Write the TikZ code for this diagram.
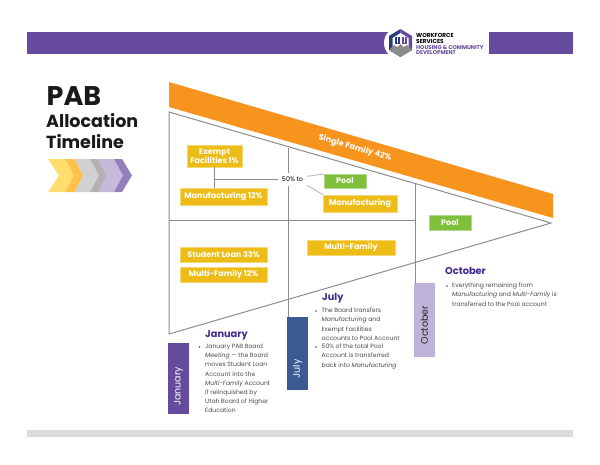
\documentclass[tikz,border=0pt]{standalone}
\usepackage{fontspec}
\setmainfont{Poppins}
\definecolor{barpurple}{HTML}{664A9E}
\definecolor{logonavy}{HTML}{2B3A7E}
\definecolor{monthblue}{HTML}{3B5A94}
\definecolor{monthlilac}{HTML}{C0B3D9}
\definecolor{bandorange}{HTML}{F7941E}
\definecolor{boxyellow}{HTML}{EEBC17}
\definecolor{boxgreen}{HTML}{7FBF3A}
\definecolor{edgegray}{HTML}{8C8C8C}
\definecolor{headpurple}{HTML}{41288C}
\definecolor{bodygray}{HTML}{4A4A4A}
\tikzset{
	allocbox/.style={draw=boxyellow!60,fill=boxyellow,line width=0.5pt,text=white,font=\fontsize{8}{9}\selectfont\bfseries,inner sep=0pt,align=center},
	poolbox/.style={allocbox,draw=boxgreen!60,fill=boxgreen},
	monthbox/.style={fill=#1,line width=0.5pt,minimum width=21pt,inner sep=0pt},
	monthtext/.style={rotate=90,font=\fontsize{9.5}{9.5}\selectfont},
	monthhead/.style={anchor=base west,inner sep=0pt,text=headpurple,font=\fontsize{9.8}{10}\selectfont\bfseries},
	bodytext/.style={anchor=north west,inner sep=0pt,align=left,text=bodygray,font=\fontsize{6.1}{9.1}\selectfont},
	bulletdot/.style={circle,fill=bodygray,inner sep=0pt,minimum size=1.7pt},
	logotext/.style={anchor=base west,inner sep=0pt,font=\fontsize{5.8}{6}\selectfont\bfseries},
	logosub/.style={anchor=base west,inner sep=0pt,text=barpurple,font=\fontsize{5.5}{6}\selectfont\bfseries},
	titletext/.style={anchor=base west,inner sep=0pt,text=black!90,font=\fontsize{#1}{#1}\selectfont\bfseries}
}
\begin{document}
\begin{tikzpicture}[x=1pt,y=-1pt]
	\useasboundingbox (0,0) rectangle (600,464);
	\def\midx{288}
	\def\lastx{415}
	\def\apexx{551}
	\def\apexy{223}
	\def\midy{220}

	%%%%% BARS %%%%%
	\fill[barpurple] (27,32) rectangle (388,54);
	\fill[barpurple] (489,32) rectangle (573,54);
	\fill[white] (400,43) circle (16);
	\fill[black!14] (27,430) rectangle (573,437);

	%%%%% LOGO %%%%%
	\fill[logonavy] (400.5,29) -- (389,36) -- (389,50) -- (400.5,57) -- cycle;
	\fill[barpurple] (400.5,29) -- (412,36) -- (412,50) -- (400.5,57) -- cycle;
	\fill[white] (400.5,33) -- (392.5,38) -- (392.5,48) -- (400.5,53) -- (408.5,48) -- (408.5,38) -- cycle;
	\fill[black!45] (389,50) -- (394,45) -- (397.5,47) -- (400.5,44) -- (403.5,47) -- (407,45) -- (412,50) -- (400.5,57) -- cycle;
	\fill[logonavy] (394.5,37) rectangle (399.5,44);
	\fill[barpurple] (401.5,37) rectangle (406.5,44);
	\fill[white] (396.5,37) rectangle (397.5,43);
	\fill[white] (403.5,37) rectangle (404.5,43);
	\node[logotext] (logoa) at (416,37) {WORKFORCE};
	\node[logotext] (logob) at (416,43) {SERVICES};
	\node[logosub] (logoc) at (416,49) {HOUSING \& COMMUNITY};
	\node[logosub] (logod) at (416,54.5) {DEVELOPMENT};

	%%%%% TITLE %%%%%
	\node[titletext=27] (titlea) at (46.5,105) {PAB};
	\node[titletext=17.5] (titleb) at (46,127) {Allocation};
	\node[titletext=17.5] (titlec) at (46,148) {Timeline};

	\fill[yellow!60!orange!55] (48,159) -- (65,159) -- (74,175.5) -- (65,192) -- (48,192) -- (59,175.5) -- cycle;
	\fill[orange!70!yellow!70] (65,159) -- (75,159) -- (83,175.5) -- (75,192) -- (65,192) -- (74,175.5) -- cycle;
	\fill[black!18] (75,159) -- (90,159) -- (99,175.5) -- (90,192) -- (75,192) -- (83,175.5) -- cycle;
	\fill[black!30] (90,159) -- (98,159) -- (107,175.5) -- (98,192) -- (90,192) -- (99,175.5) -- cycle;
	\fill[barpurple!38] (98,159) -- (114,159) -- (123,175.5) -- (114,192) -- (98,192) -- (107,175.5) -- cycle;
	\fill[barpurple!70] (114,159) -- (122,159) -- (132,175.5) -- (122,192) -- (114,192) -- (123,175.5) -- cycle;

	%%%%% TRIANGLE %%%%%
	\fill[bandorange] (169,82) -- (553,194) -- (553,218) -- (169,107) -- cycle;
	\node[rotate=-16.3,text=white,font=\fontsize{8.2}{9}\selectfont\bfseries] (singlefamily) at (355,148) {Single Family 42\%};

	\draw[edgegray,line width=1pt] (169,112) -- (\apexx,\apexy) -- (169,334) -- cycle;
	\draw[edgegray,line width=1pt] (\midx,148) -- (\midx,317);
	\draw[edgegray,line width=1pt] (\lastx,184) -- (\lastx,283);
	\draw[edgegray,line width=1pt] (169,\midy) -- (\lastx,\midy);

	%%%%% BOXES %%%%%
	\node[allocbox,minimum width=55pt,minimum height=22pt] (exempt) at (214.5,156) {Exempt\\[-0.5pt]Facilities 1\%};
	\node[allocbox,minimum width=87pt,minimum height=17pt] (mfgtwelve) at (223.5,196.5) {Manufacturing 12\%};
	\node[poolbox,minimum width=42pt,minimum height=14pt] (poolone) at (345,181) {Pool};
	\node[allocbox,minimum width=74pt,minimum height=17pt] (mfgjuly) at (360,203.5) {Manufacturing};
	\node[poolbox,minimum width=42pt,minimum height=15pt] (pooltwo) at (450,222.5) {Pool};
	\node[allocbox,minimum width=87pt,minimum height=15pt] (studentloan) at (223.5,254.5) {Student Loan 33\%};
	\node[allocbox,minimum width=87pt,minimum height=15pt] (multitwelve) at (223.5,274.5) {Multi-Family 12\%};
	\node[allocbox,minimum width=88pt,minimum height=15pt] (multijuly) at (351,247.5) {Multi-Family};

	\node[fill=white,inner sep=0pt,minimum width=29pt,minimum height=13pt,font=\fontsize{6.4}{7}\selectfont] (fiftyto) at (292.5,179) {50\% to};
	\coordinate (joint) at (exempt.south |- fiftyto);
	\draw[edgegray,line width=1pt] (exempt.south) -- (exempt.south |- mfgtwelve.north);
	\draw[edgegray,line width=1pt] (joint) -- (fiftyto);
	\draw[black!25,line width=1pt] (fiftyto.north east) ++(0,4) -- (poolone.west |- 0,174);
	\draw[black!25,line width=1pt] (fiftyto.south east) ++(0,-0.5) -- (mfgjuly.north west);

	%%%%% MONTHS %%%%%
	\node[monthbox=barpurple,minimum height=71pt] (january) at (178.5,378.5) {};
	\node[monthtext,text=white] (januarytext) at (january.center |- 0,386.5) {January};
	\node[monthbox=monthblue,minimum height=73pt] (july) at (297.5,353.5) {};
	\node[monthtext,text=white] (julytext) at (july.center |- 0,369) {July};
	\node[monthbox=monthlilac,minimum height=74pt] (october) at (424.5,320) {};
	\node[monthtext,text=black!85] (octobertext) at (october.center |- 0,325) {October};

	\node[monthhead] (januaryhead) at (205,337) {January};
	\node[bulletdot] (januarydot) at (199.5,347) {};
	\node[bodytext] (januarybody) at (205,344) {January PAB Board\\\textit{Meeting} — the Board\\moves Student Loan\\Account into the\\\textit{Multi-Family} Account\\if relinquished by\\Utah Board of Higher\\Education};

	\node[monthhead] (julyhead) at (322,300) {July};
	\node[bulletdot] (julydota) at (316,311) {};
	\node[bodytext] (julybodya) at (321.5,308) {The Board transfers\\\textit{Manufacturing} and\\Exempt Facilities\\accounts to Pool Account};
	\node[bulletdot] (julydotb) at (316,347) {};
	\node[bodytext] (julybodyb) at (321.5,344) {50\% of the total Pool\\Account is transferred\\back into \textit{Manufacturing}};

	\node[monthhead] (octoberhead) at (445,274) {October};
	\node[bulletdot] (octoberdot) at (447,286) {};
	\node[bodytext] (octoberbody) at (452,283) {Everything remaining from\\\textit{Manufacturing} and \textit{Multi-Family} is\\transferred to the Pool account};
\end{tikzpicture}
\end{document}
